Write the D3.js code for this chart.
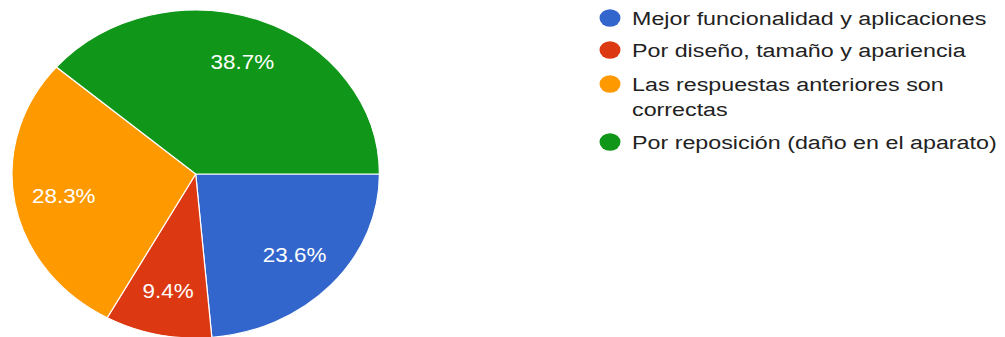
<!DOCTYPE html>
<html>
<head>
<meta charset="utf-8">
<script src="https://cdn.jsdelivr.net/npm/d3@7/dist/d3.min.js"></script>
<style>
  html, body { margin: 0; padding: 0; background: #ffffff; }
  svg { display: block; }
  text { font-family: "Liberation Sans", Arial, sans-serif; }
</style>
</head>
<body>
<svg id="chart" width="1005" height="337"></svg>
<script>
// Survey answers and their shares (percent)
const categories = [
  "Mejor funcionalidad y aplicaciones",
  "Por diseño, tamaño y apariencia",
  "Las respuestas anteriores son correctas",
  "Por reposición (daño en el aparato)"
];
const values = [23.6, 9.4, 28.3, 38.7];
const colors = ["#3366cc", "#dc3912", "#ff9900", "#109618"];
// Legend lines (long labels wrap onto two lines)
const legendLines = [
  ["Mejor funcionalidad y aplicaciones"],
  ["Por diseño, tamaño y apariencia"],
  ["Las respuestas anteriores son", "correctas"],
  ["Por reposición (daño en el aparato)"]
];

const svg = d3.select("#chart");
const W = 1005, H = 337;

// Pie geometry: drawn as a circle and stretched horizontally
const cx = 195.7, cy = 174, ry = 164, rx = 183.7;
const sx = rx / ry;

const pie = d3.pie().sort(null).value(d => d)
  .startAngle(Math.PI / 2).endAngle(Math.PI / 2 + 2 * Math.PI);
const arcs = pie(values);
const arc = d3.arc().innerRadius(0).outerRadius(ry);
const labelArc = d3.arc().innerRadius(ry * 0.73).outerRadius(ry * 0.73);

const pieG = svg.append("g")
  .attr("transform", `translate(${cx},${cy}) scale(${sx},1)`);

pieG.selectAll("path.slice")
  .data(arcs)
  .join("path")
  .attr("class", "slice")
  .attr("d", arc)
  .attr("fill", (d, i) => colors[i])
  .attr("stroke", "#ffffff")
  .attr("stroke-width", 1.2)
  .attr("vector-effect", "non-scaling-stroke");

// Percentage labels
const labelG = svg.append("g").attr("transform", `translate(${cx},${cy})`);
labelG.selectAll("text.pct")
  .data(arcs)
  .join("text")
  .attr("class", "pct")
  .attr("transform", d => {
    const [x, y] = labelArc.centroid(d);
    return `translate(${x * sx},${y}) scale(1.12,1)`;
  })
  .attr("text-anchor", "middle")
  .attr("dy", "0.36em")
  .attr("font-size", 20)
  .attr("fill", "#ffffff")
  .text(d => d.data.toFixed(1) + "%");

// Legend
const legendX = 610, textX = 632;
const dotY = [18, 50, 84, 142];
const legend = svg.append("g");
const items = legend.selectAll("g.item")
  .data(categories)
  .join("g")
  .attr("class", "item");

items.append("ellipse")
  .attr("cx", legendX)
  .attr("cy", (d, i) => dotY[i])
  .attr("rx", 10.5)
  .attr("ry", 8.8)
  .attr("fill", (d, i) => colors[i]);

items.each(function (d, i) {
  const g = d3.select(this);
  legendLines[i].forEach((line, j) => {
    g.append("text")
      .attr("transform", `translate(${textX},${dotY[i] + 7.3 + j * 25}) scale(1.225,1)`)
      .attr("font-size", 19)
      .attr("fill", "#222222")
      .text(line);
  });
});
</script>
</body>
</html>
